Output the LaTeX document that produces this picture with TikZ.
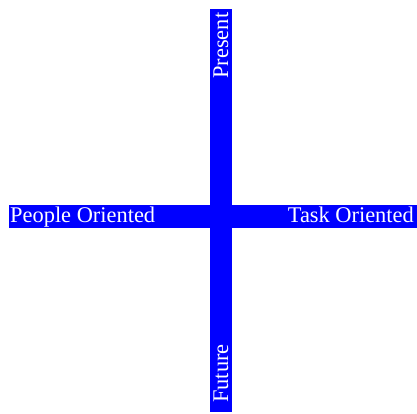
\documentclass[tikz,border=0pt]{standalone}
\usepackage{fontspec}
\setmainfont{Liberation Serif}
\usepackage{tikz}
\usepackage{xcolor}
\definecolor{barblue}{RGB}{0, 0, 255}

\tikzset{
    bar/.style={fill=barblue, draw=none, inner sep=0pt, outer sep=0pt},
    axislabel/.style={text=white, inner sep=0pt, font=\fontsize{22.4}{26}\selectfont}
}

\begin{document}
\begin{tikzpicture}[x=1pt, y=1pt]
    \useasboundingbox (0,0) rectangle (417,414);

    % Bars
    \node[bar, minimum width=22pt, minimum height=403pt] (vbar) at (221,203.5) {};
    \node[bar, minimum width=408pt, minimum height=23pt] (hbar) at (213,197.5) {};

    % Vertical labels
    \node[axislabel, rotate=90, anchor=base east] (present) at (228,401.5) {Present};
    \node[axislabel, rotate=90, anchor=base west] (future) at (228,11) {Future};

    % Horizontal labels
    \node[axislabel, anchor=base west] (people) at (10,191) {People Oriented};
    \node[axislabel, anchor=base east] (task) at (414,191) {Task Oriented};
\end{tikzpicture}
\end{document}
